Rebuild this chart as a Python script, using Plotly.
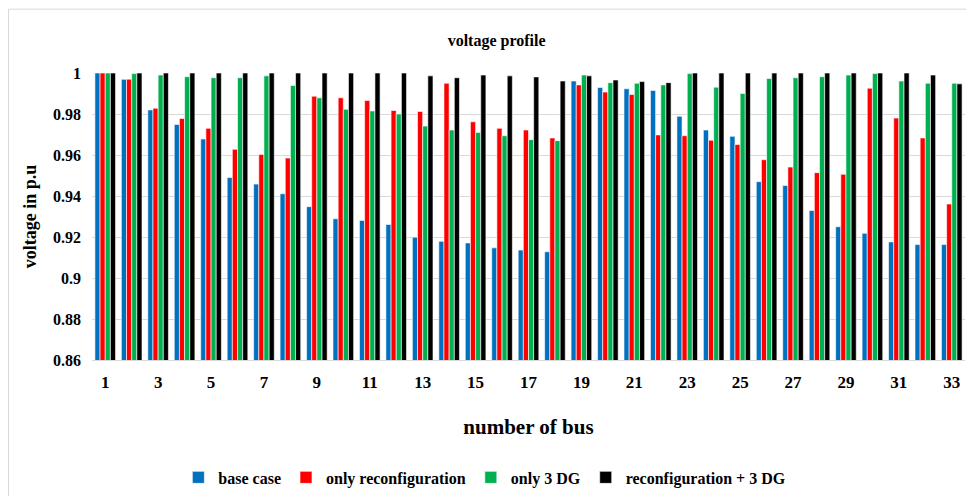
import plotly.graph_objects as go

buses = [str(i) for i in range(1, 34)]
tick_labels = [str(i) for i in range(1, 34, 2)]

base_case = [1.0, 0.9969, 0.982, 0.9749, 0.9678, 0.949, 0.9458, 0.9411, 0.9348, 0.9289,
             0.9281, 0.9261, 0.9199, 0.9179, 0.9171, 0.9147, 0.9136, 0.9128, 0.9961, 0.9929,
             0.9923, 0.9915, 0.9789, 0.9722, 0.9691, 0.947, 0.9451, 0.9329, 0.925, 0.9218,
             0.9176, 0.9163, 0.9163]
only_reconf = [1.0, 0.997, 0.9828, 0.9778, 0.973, 0.9628, 0.9603, 0.9585, 0.9887, 0.9879,
               0.9866, 0.9817, 0.9812, 0.995, 0.9762, 0.973, 0.9722, 0.9683, 0.9942, 0.9907,
               0.9895, 0.9698, 0.9694, 0.9672, 0.9651, 0.9577, 0.9541, 0.9514, 0.9506, 0.9926,
               0.978, 0.9683, 0.9361]
only_3dg = [1.0, 0.9997, 0.999, 0.9982, 0.9977, 0.9977, 0.9986, 0.9939, 0.9879, 0.9823,
            0.9815, 0.98, 0.9741, 0.9722, 0.971, 0.9694, 0.9675, 0.967, 0.999, 0.9953,
            0.995, 0.9942, 0.9997, 0.9931, 0.99, 0.9973, 0.9977, 0.9982, 0.999, 0.9997,
            0.9961, 0.995, 0.995]
reconf_3dg = [1.0, 1.0, 1.0, 1.0, 1.0, 1.0, 1.0, 1.0, 1.0, 1.0,
              1.0, 1.0, 0.9986, 0.9977, 0.999, 0.9986, 0.9981, 0.9961, 0.9986, 0.9966,
              0.9958, 0.9953, 1.0, 1.0, 1.0, 1.0, 1.0, 1.0, 1.0, 1.0,
              1.0, 0.999, 0.9947]

series = [
    ("base case", base_case, "#0070C0"),
    ("only reconfiguration", only_reconf, "#FF0000"),
    ("only 3 DG", only_3dg, "#00B050"),
    ("reconfiguration + 3 DG", reconf_3dg, "#000000"),
]

FONT = "Liberation Serif"
W, H = 958, 488
L, R, T, B = 84, 1, 65, 133
PW, PH = W - L - R, H - T - B

fig = go.Figure()
for name, vals, color in series:
    fig.add_trace(go.Bar(
        x=buses, y=vals, name=name,
        marker=dict(color=color, line=dict(color="white", width=0.6)),
    ))

fig.update_layout(
    width=W, height=H,
    margin=dict(l=L, r=R, t=T, b=B),
    paper_bgcolor="white", plot_bgcolor="white",
    barmode="group", bargap=0.22, bargroupgap=0.0,
    font=dict(family=FONT, color="black"),
    title=dict(text="<b>voltage profile</b>", x=0.51, xanchor="center",
               y=1 - 32 / H, yanchor="middle", font=dict(size=16, family=FONT)),
    xaxis=dict(
        type="category", tickmode="array", tickvals=tick_labels, ticktext=tick_labels,
        tickfont=dict(size=17, family=FONT, weight="bold"),
        showgrid=False, showline=True, linecolor="#d9d9d9", linewidth=1,
        ticks="", ticklabelstandoff=7,
        title=dict(text="<b>number of bus</b>", font=dict(size=21, family=FONT), standoff=27),
    ),
    yaxis=dict(
        range=[0.86, 1.0], tickmode="array",
        tickvals=[0.86, 0.88, 0.9, 0.92, 0.94, 0.96, 0.98, 1.0],
        ticktext=["0.86", "0.88", "0.9", "0.92", "0.94", "0.96", "0.98", "1"],
        tickfont=dict(size=16, family=FONT, weight="bold"),
        showgrid=True, gridcolor="#d9d9d9", gridwidth=1,
        zeroline=False, ticks="", ticklabelstandoff=10,
        title=dict(text="<b>voltage in p.u</b>", font=dict(size=18, family=FONT), standoff=11),
    ),
    legend=dict(
        orientation="h", x=0.45, xanchor="center", y=-0.35, yanchor="top",
        font=dict(size=16, family=FONT, weight="bold"),
        itemwidth=30, traceorder="normal",
    ),
    shapes=[dict(type="rect", xref="paper", yref="paper",
                 x0=(0.5 - L) / PW, x1=1.2, y0=-1.0, y1=1 + (T - 0.5) / PH,
                 line=dict(color="#d9d9d9", width=1), layer="below")],
)

fig.write_html("out.html")
